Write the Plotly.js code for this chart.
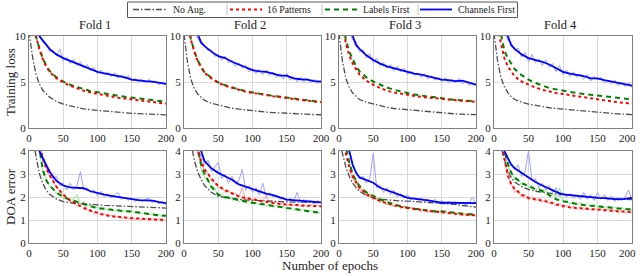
<!DOCTYPE html>
<html><head><meta charset="utf-8">
<script src="https://cdn.plot.ly/plotly-3.0.1.min.js"></script>
<style>html,body{margin:0;padding:0;background:#fff}#c{width:640px;height:276px}</style>
</head><body><div id="c"></div>
<script>
// epochs for smoothed curves
const epochs = [0,5,10,15,20,25,30,40,50,60,70,80,90,100,110,120,130,140,150,160,170,180,190,200];
// epochs for raw (unsmoothed) curves
const rawEpochs = [15,20,25,30,35,40,45,50,55,60,65,70,75,80,85,90,95,100,105,110,115,120,125,130,135,140,145,150,155,160,165,170,175,180,185,190,195,200];

const foldNames = ["Fold 1","Fold 2","Fold 3","Fold 4"];
const seriesNames = ["No Aug.","16 Patterns","Labels First","Channels First"];
const xTicks = [0,50,100,150,200];
const lossTicks = [0,5,10];
const doaTicks = [0,1,2,3,4];

// Training loss
const loss_f1_noaug = [10.5,7.8,5.9,4.8,4.1,3.7,3.35,2.9,2.6,2.4,2.22,2.08,1.97,1.9,1.82,1.75,1.7,1.65,1.6,1.56,1.52,1.5,1.46,1.43];
const loss_f1_p16   = [14,12,10,8.6,7.5,6.7,6.1,5.4,4.95,4.6,4.3,4.05,3.85,3.7,3.55,3.42,3.3,3.2,3.1,3.0,2.9,2.8,2.72,2.65];
const loss_f1_lab   = [14,12,10,8.7,7.6,6.8,6.2,5.5,5.05,4.7,4.45,4.2,4.0,3.9,3.75,3.6,3.5,3.4,3.3,3.2,3.1,3.0,2.92,2.85];
const loss_f1_chan  = [14,13,11.5,10,9.5,9.0,8.6,8.0,7.6,7.3,7.0,6.7,6.4,6.1,5.95,5.8,5.6,5.5,5.25,5.15,5.1,5.05,4.9,4.8];

const loss_f2_noaug = [10.2,7.2,5.3,4.3,3.7,3.3,3.0,2.7,2.5,2.32,2.15,2.05,1.95,1.88,1.8,1.73,1.68,1.63,1.58,1.55,1.52,1.49,1.46,1.44];
const loss_f2_p16   = [14,11.8,9.6,8.3,7.3,6.6,6.0,5.4,4.9,4.6,4.35,4.15,3.95,3.8,3.7,3.58,3.46,3.38,3.25,3.15,3.05,2.98,2.9,2.8];
const loss_f2_lab   = [14,11.9,9.7,8.35,7.35,6.65,6.05,5.45,4.95,4.65,4.4,4.2,4.0,3.85,3.72,3.6,3.5,3.4,3.3,3.18,3.08,3.0,2.92,2.82];
const loss_f2_chan  = [14,13,12,11,10.2,9.3,8.9,8.3,7.8,7.6,7.2,6.9,6.6,6.3,6.15,6.1,5.9,5.7,5.7,5.4,5.3,5.25,5.1,5.05];

const loss_f3_noaug = [10.3,7.3,5.4,4.4,3.8,3.4,3.1,2.8,2.6,2.42,2.25,2.12,2.05,2.0,1.9,1.82,1.75,1.68,1.62,1.57,1.53,1.5,1.47,1.45];
const loss_f3_p16   = [13.5,11.2,9.2,7.9,7.0,6.4,5.8,5.15,4.7,4.35,4.05,3.85,3.7,3.6,3.48,3.38,3.3,3.22,3.15,3.08,3.0,2.95,2.9,2.85];
const loss_f3_lab   = [14,11.6,9.6,8.3,7.4,6.7,6.15,5.5,5.05,4.7,4.4,4.15,3.95,3.8,3.65,3.52,3.42,3.35,3.22,3.12,3.05,3.0,2.95,2.9];
const loss_f3_chan  = [14,13,12,11,10.2,9.0,8.6,7.9,7.4,7.0,6.7,6.5,6.3,6.1,5.9,5.8,5.6,5.45,5.25,5.2,5.1,5.15,4.9,4.7];

const loss_f4_noaug = [10.3,7.4,5.5,4.5,3.85,3.4,3.1,2.8,2.6,2.45,2.3,2.2,2.12,2.05,1.95,1.88,1.8,1.75,1.7,1.63,1.57,1.53,1.5,1.46];
const loss_f4_p16   = [13.5,11,9.2,7.6,6.7,6.1,5.6,5.05,4.7,4.4,4.15,3.95,3.8,3.7,3.55,3.45,3.35,3.22,3.1,3.0,2.9,2.8,2.72,2.65];
const loss_f4_lab   = [14,12,10,8.4,7.6,7.0,6.4,5.75,5.25,4.9,4.6,4.35,4.2,4.05,3.9,3.8,3.7,3.62,3.55,3.45,3.35,3.25,3.15,3.1];
const loss_f4_chan  = [14,13,12,10.8,9.8,9.0,8.6,8.0,7.6,7.4,7.2,6.9,6.5,6.1,5.9,5.8,5.65,5.4,5.4,5.2,5.05,4.9,4.8,4.6];

// DOA error
const doa_f1_noaug = [6,5,3.8,3.03,2.6,2.3,2.12,1.92,1.8,1.75,1.72,1.7,1.68,1.66,1.64,1.63,1.62,1.6,1.59,1.57,1.56,1.55,1.53,1.52];
const doa_f1_p16   = [7,6,5,4.3,3.7,3.25,2.95,2.45,2.1,1.85,1.68,1.52,1.4,1.3,1.22,1.17,1.13,1.1,1.08,1.06,1.05,1.03,1.02,1.0];
const doa_f1_lab   = [7,6,5,4.0,3.2,2.74,2.5,2.2,2.0,1.88,1.78,1.68,1.6,1.52,1.48,1.44,1.41,1.38,1.37,1.32,1.28,1.24,1.2,1.18];
const doa_f1_chan  = [7,6,5,4.0,3.7,3.4,3.1,2.7,2.5,2.42,2.4,2.38,2.25,2.17,2.1,2.05,2.0,1.95,1.88,1.86,1.85,1.84,1.78,1.73];

const doa_f2_noaug = [7,5.6,4.4,3.6,3.1,2.76,2.5,2.2,2.04,1.98,1.93,1.9,1.87,1.85,1.83,1.82,1.81,1.8,1.79,1.78,1.77,1.76,1.76,1.75];
const doa_f2_p16   = [7,6,5.2,4.6,4.0,3.56,3.2,2.8,2.47,2.3,2.15,2.03,1.95,1.89,1.84,1.79,1.74,1.7,1.67,1.65,1.63,1.62,1.61,1.6];
const doa_f2_lab   = [7,6,5.2,4.6,4.2,3.4,3.0,2.45,2.1,2.0,1.93,1.85,1.8,1.75,1.7,1.66,1.62,1.58,1.53,1.48,1.44,1.4,1.35,1.31];
const doa_f2_chan  = [8,7,6,5.2,4.5,4.0,3.56,3.25,3.05,2.9,2.75,2.55,2.45,2.33,2.25,2.15,2.08,1.98,1.89,1.86,1.83,1.8,1.78,1.77];

const doa_f3_noaug = [4.5,3.9,3.3,2.9,2.6,2.4,2.25,2.07,1.96,1.9,1.87,1.85,1.83,1.82,1.8,1.79,1.78,1.77,1.75,1.72,1.68,1.63,1.6,1.56];
const doa_f3_p16   = [6,4.8,3.9,3.3,2.9,2.62,2.4,2.12,1.96,1.82,1.72,1.63,1.57,1.53,1.48,1.43,1.39,1.36,1.34,1.3,1.27,1.24,1.22,1.2];
const doa_f3_lab   = [6,5,4.2,3.5,3.0,2.69,2.48,2.2,2.04,1.9,1.78,1.68,1.6,1.53,1.48,1.44,1.41,1.38,1.38,1.34,1.3,1.27,1.25,1.24];
const doa_f3_chan  = [7,6,5,4.0,3.4,3.05,2.85,2.75,2.62,2.4,2.3,2.2,2.08,1.96,1.93,1.9,1.85,1.8,1.75,1.75,1.75,1.74,1.72,1.73];

const doa_f4_noaug = [6,5,4.2,3.6,3.15,2.84,2.65,2.45,2.33,2.25,2.2,2.16,2.13,2.11,2.08,2.05,2.02,1.99,1.96,1.94,1.92,1.91,1.9,1.89];
const doa_f4_p16   = [6,5,4.4,3.7,2.95,2.55,2.35,2.1,1.96,1.9,1.85,1.78,1.68,1.6,1.55,1.52,1.5,1.48,1.45,1.42,1.4,1.37,1.35,1.34];
const doa_f4_lab   = [7,6,5,4.0,3.45,3.05,2.85,2.6,2.47,2.35,2.27,2.1,1.9,1.82,1.75,1.7,1.65,1.62,1.6,1.56,1.52,1.5,1.47,1.45];
const doa_f4_chan  = [7,6,5,4.0,3.7,3.4,3.25,3.05,2.84,2.65,2.5,2.35,2.22,2.11,2.08,2.05,2.0,1.98,1.96,1.95,1.93,1.9,1.92,1.96];

// raw Channels First (unsmoothed)
const loss_f1_chanRaw = [10.2,9.3,9.2,8.3,8.4,7.9,8.6,7.3,7.7,7.0,7.5,6.8,7.2,6.5,6.9,6.2,6.6,5.9,6.3,5.8,6.1,5.6,6.0,5.4,5.8,5.3,5.7,5.1,5.4,5.0,5.3,4.9,5.3,4.9,5.1,4.7,5.0,4.6];
const loss_f2_chanRaw = [10.4,9.8,9.1,9.0,8.4,8.5,7.8,8.0,7.4,7.8,7.1,7.4,6.7,7.1,6.5,6.8,6.1,6.5,5.9,6.4,5.8,6.3,5.7,6.1,5.5,5.9,5.3,5.9,5.2,5.6,5.0,5.5,5.0,5.4,4.9,5.3,4.8,5.2];
const loss_f3_chanRaw = [10.3,9.6,9.4,8.3,8.5,7.6,8.1,7.1,7.6,6.8,7.1,6.5,6.9,6.2,6.7,6.1,6.5,5.8,6.2,5.7,6.0,5.5,5.9,5.3,5.7,5.2,5.5,5.0,5.5,4.9,5.3,4.9,5.4,4.8,5.1,4.6,4.9,4.5];
const loss_f4_chanRaw = [10.5,9.5,9.3,8.4,8.7,7.7,8.2,7.2,8.0,7.1,7.5,6.8,7.4,6.6,7.0,6.1,6.8,5.8,6.3,5.6,6.1,5.5,5.9,5.3,5.8,5.1,5.6,5.2,5.5,4.9,5.2,4.8,5.2,4.6,5.0,4.5,4.9,4.4];
const doa_f1_chanRaw = [4.2,3.8,3.3,3.2,2.8,2.9,2.5,2.6,2.3,2.6,2.3,2.5,3.1,2.3,2.4,2.2,2.3,2.05,2.25,2.0,2.15,1.95,2.1,2.2,1.9,2.0,1.85,1.95,1.8,1.95,1.8,1.9,1.95,1.75,1.85,1.7,1.8,1.65];
const doa_f2_chanRaw = [4.3,4.1,3.8,3.4,3.6,3.1,3.3,3.5,2.8,3.0,2.6,2.9,2.6,2.7,3.2,2.3,2.5,2.2,2.4,2.1,2.6,2.0,2.2,2.0,2.1,1.9,2.0,1.8,1.95,1.8,2.2,1.75,1.9,1.75,1.85,1.7,1.85,1.75];
const doa_f3_chanRaw = [4.1,3.3,3.1,2.8,2.9,2.6,2.8,3.9,2.4,2.5,2.2,2.4,2.1,2.3,2.0,2.15,1.95,2.1,1.85,2.0,1.85,1.95,1.8,1.9,1.75,1.9,1.7,1.85,1.7,1.8,1.7,1.8,1.7,1.75,1.65,1.75,2.0,1.7];
const doa_f4_chanRaw = [4.0,3.6,3.5,3.2,3.4,2.9,3.1,4.0,2.7,2.8,2.4,2.6,2.3,2.5,2.2,2.4,2.0,2.2,2.0,2.15,1.95,2.1,1.9,2.2,1.9,2.1,1.85,2.2,1.9,2.1,1.85,2.05,1.8,2.0,1.85,2.0,2.3,1.9];

// raw Labels First / 16 Patterns for DOA error (unsmoothed)
const doa_f1_labRaw = [4.1,3.1,2.8,2.45,2.4,2.15,2.15,1.95,2.0,1.85,1.9,2.1,1.7,1.72,1.6,1.65,1.5,1.56,1.45,1.52,1.42,1.47,1.38,1.45,1.35,1.4,1.33,1.4,1.3,1.35,1.26,1.3,1.22,1.27,1.18,1.23,1.15,1.2];
const doa_f1_p16Raw = [4.4,3.6,3.3,2.9,2.75,2.4,2.3,2.05,2.0,1.8,1.8,1.62,1.65,1.8,1.42,1.45,1.3,1.35,1.2,1.27,1.15,1.2,1.1,1.16,1.07,1.13,1.04,1.1,1.02,1.09,1.0,1.08,0.98,1.06,0.97,1.05,0.95,1.02];
const doa_f2_labRaw = [4.5,4.0,3.2,2.85,2.8,2.35,2.4,2.0,2.15,1.9,2.05,1.85,1.95,1.78,1.9,1.72,1.85,1.68,1.78,1.63,1.75,1.6,1.7,1.55,1.65,1.52,1.6,1.46,1.56,1.42,1.5,1.38,1.46,1.34,1.42,1.3,1.36,1.25];
const doa_f2_p16Raw = [4.5,3.9,3.5,3.1,3.05,2.7,2.65,2.4,2.45,2.2,2.3,2.1,2.15,1.98,2.4,1.9,1.98,1.84,1.92,1.8,1.88,2.0,1.8,1.7,1.78,1.66,1.75,1.62,1.72,1.6,1.7,1.58,1.68,1.57,1.67,1.56,1.65,1.55];
const doa_f3_labRaw = [3.6,2.9,2.75,2.4,2.35,2.12,2.15,1.95,2.0,1.82,1.88,1.7,1.78,1.6,1.68,1.52,1.6,1.46,1.55,1.42,1.5,1.38,1.46,1.35,1.44,1.32,1.4,1.3,1.38,1.28,1.35,1.24,1.32,1.2,1.28,1.18,1.26,1.15];
const doa_f3_p16Raw = [3.2,2.8,2.55,2.3,2.3,2.05,2.05,1.88,1.92,1.75,1.8,1.65,1.72,1.56,1.66,1.5,1.6,1.46,1.55,1.42,1.5,1.37,1.45,1.33,1.42,1.3,1.4,1.28,1.37,1.25,1.33,1.22,1.3,1.2,1.27,1.17,1.25,1.16];
const doa_f4_labRaw = [4.1,3.3,3.1,2.75,2.8,2.5,2.6,2.4,2.5,2.28,2.4,2.2,2.3,2.05,2.1,2.0,2.4,1.75,1.85,1.7,1.8,1.65,1.76,1.6,1.72,1.57,1.68,1.55,1.65,1.5,1.6,1.47,1.57,1.45,1.55,1.42,1.52,1.4];
const doa_f4_p16Raw = [3.6,2.85,2.6,2.2,2.3,2.0,2.1,1.88,2.0,1.82,1.95,1.78,1.9,1.7,1.8,1.6,1.72,1.52,1.65,1.5,1.6,1.46,1.58,1.44,1.56,1.42,1.53,1.4,1.5,1.36,1.47,1.34,1.45,1.3,1.42,1.29,1.4,1.28];

const lossData = [
  [loss_f1_noaug,loss_f1_p16,loss_f1_lab,loss_f1_chan,loss_f1_chanRaw],
  [loss_f2_noaug,loss_f2_p16,loss_f2_lab,loss_f2_chan,loss_f2_chanRaw],
  [loss_f3_noaug,loss_f3_p16,loss_f3_lab,loss_f3_chan,loss_f3_chanRaw],
  [loss_f4_noaug,loss_f4_p16,loss_f4_lab,loss_f4_chan,loss_f4_chanRaw]];
const doaData = [
  [doa_f1_noaug,doa_f1_p16,doa_f1_lab,doa_f1_chan,doa_f1_chanRaw,doa_f1_p16Raw,doa_f1_labRaw],
  [doa_f2_noaug,doa_f2_p16,doa_f2_lab,doa_f2_chan,doa_f2_chanRaw,doa_f2_p16Raw,doa_f2_labRaw],
  [doa_f3_noaug,doa_f3_p16,doa_f3_lab,doa_f3_chan,doa_f3_chanRaw,doa_f3_p16Raw,doa_f3_labRaw],
  [doa_f4_noaug,doa_f4_p16,doa_f4_lab,doa_f4_chan,doa_f4_chanRaw,doa_f4_p16Raw,doa_f4_labRaw]];

const styles = [
  {color:"#4d4d4d", width:1.3, dash:"6px,2px,1.5px,2px"},
  {color:"#ff0000", width:2, dash:"dot"},
  {color:"#008000", width:2, dash:"5px,4px"},
  {color:"#0000ff", width:1.8, dash:"solid"}];
const rawColors = {chan:"#a0a0ff", p16:"#ff9c9c", lab:"#8cf08c"};
const drawOrder = [0,2,1,3];
const FONT = "'Liberation Serif', 'Times New Roman', serif";

const W=640, ML=29, MR=8, MT=36, MB=33, H=276;
const PW = W-ML-MR, PH = H-MT-MB;
const colPx = [[29,166],[184,321],[339,476],[494,632]];
const xd = colPx.map(c=>[(c[0]-ML)/PW,(c[1]-ML)/PW]);
const rowBottomPx = [128,243];
const rowDom = [[(243-128)/PH,1],[0,(243-151)/PH]];
const py = p => (H-MB-p)/PH;   // pixel row -> paper y
const px = p => (p-ML)/PW;     // pixel col -> paper x
const tickFont = {family:FONT,size:11,color:"#222"};

const traces=[];
const layout = {
  width:W, height:H, margin:{l:ML,r:MR,t:MT,b:MB,autoexpand:false},
  paper_bgcolor:"#fff", plot_bgcolor:"#fff",
  font:{family:FONT, size:11, color:"#222"},
  showlegend:false,
  annotations:[], shapes:[]
};

function rawTrace(xr,yr,ys,color){
  return {x:rawEpochs, y:ys, xaxis:xr, yaxis:yr, mode:"lines", showlegend:false, hoverinfo:"skip",
    line:{color:color, width:1}};
}

let axN=0;
for(let r=0;r<2;r++){
  for(let c=0;c<4;c++){
    axN++;
    const xa = axN===1?"xaxis":"xaxis"+axN, ya = axN===1?"yaxis":"yaxis"+axN;
    const xr = axN===1?"x":"x"+axN, yr = axN===1?"y":"y"+axN;
    const data = r===0?lossData[c]:doaData[c];
    const lastCol = (c===3);
    // the right-most label of the last column sits at the page edge: it is drawn as an annotation below
    const xt = lastCol ? xTicks.slice(0,-1) : xTicks;
    layout[xa] = {domain:xd[c], anchor:yr, range:[0,200], tickvals:xt, ticktext:xt.map(String),
      showgrid:true, gridcolor:"#d9d9d9", gridwidth:1, showline:true, linecolor:"#808080", linewidth:1, mirror:true,
      zeroline:false, ticks:"", ticklen:0, tickfont:tickFont, fixedrange:true};
    layout[ya] = {domain:rowDom[r], anchor:xr, range:r===0?[0,10]:[0,4], tickvals:r===0?lossTicks:doaTicks,
      ticktext:(r===0?lossTicks:doaTicks).map(String),
      showgrid:true, gridcolor:"#d9d9d9", gridwidth:1, showline:true, linecolor:"#808080", linewidth:1, mirror:true,
      zeroline:false, ticks:"", ticklen:0, tickfont:tickFont, fixedrange:true};
    if(lastCol){
      const lastTick = xTicks[xTicks.length-1];
      layout.annotations.push({text:String(lastTick), xref:xr, x:lastTick, yref:"paper", y:py(rowBottomPx[r]+2),
        xanchor:"right", xshift:6, yanchor:"top", showarrow:false, font:tickFont});
    }
    if(r===1){
      traces.push(rawTrace(xr,yr,data[6],rawColors.lab));
      traces.push(rawTrace(xr,yr,data[5],rawColors.p16));
    }
    traces.push(rawTrace(xr,yr,data[4],rawColors.chan));
    for(const s of drawOrder){
      traces.push({x:epochs, y:data[s], xaxis:xr, yaxis:yr, mode:"lines", name:seriesNames[s],
        showlegend:false,
        line:{color:styles[s].color, width:styles[s].width, dash:styles[s].dash}});
    }
    if(r===0){
      layout.annotations.push({text:foldNames[c], xref:"paper", yref:"paper",
        x:px((colPx[c][0]+colPx[c][1])/2-3), y:py(25), xanchor:"center", yanchor:"middle", showarrow:false,
        font:{family:FONT,size:12.5,color:"#222"}});
    }
  }
}

// legend box drawn in paper space (single row, with separators)
layout.shapes.push({type:"rect", xref:"paper", yref:"paper", x0:px(127.5), x1:px(517.5), y0:py(2), y1:py(17.5),
  line:{color:"#555", width:1}, fillcolor:"rgba(0,0,0,0)"});
const legSample = [[133,166],[230,262],[325,358],[420,452]];
const legText = [171,265,361,456];
for(let s=0;s<4;s++){
  layout.shapes.push({type:"line", xref:"paper", yref:"paper", x0:px(legSample[s][0]), x1:px(legSample[s][1]),
    y0:py(9.5), y1:py(9.5), line:{color:styles[s].color, width:styles[s].width, dash:styles[s].dash}});
  layout.annotations.push({text:seriesNames[s], xref:"paper", yref:"paper", x:px(legText[s]), y:py(9.7),
    xanchor:"left", yanchor:"middle", showarrow:false, font:{family:FONT,size:9.8,color:"#222"}});
}
for(const sx of [227,322,418]){
  layout.shapes.push({type:"line", xref:"paper", yref:"paper", x0:px(sx), x1:px(sx), y0:py(4), y1:py(15),
    line:{color:"#c0c0c0", width:1}});
}

layout.annotations.push({text:"Training loss", xref:"paper", yref:"paper", x:px(10), y:py(82),
  textangle:-90, showarrow:false, xanchor:"center", yanchor:"middle", font:{family:FONT,size:13,color:"#222"}});
layout.annotations.push({text:"DOA error", xref:"paper", yref:"paper", x:px(10), y:py(197),
  textangle:-90, showarrow:false, xanchor:"center", yanchor:"middle", font:{family:FONT,size:13,color:"#222"}});
layout.annotations.push({text:"Number of epochs", xref:"paper", yref:"paper", x:px(330), y:py(265),
  showarrow:false, xanchor:"center", yanchor:"middle", font:{family:FONT,size:13,color:"#222"}});

Plotly.newPlot("c", traces, layout, {displayModeBar:false, staticPlot:true});
</script></body></html>
